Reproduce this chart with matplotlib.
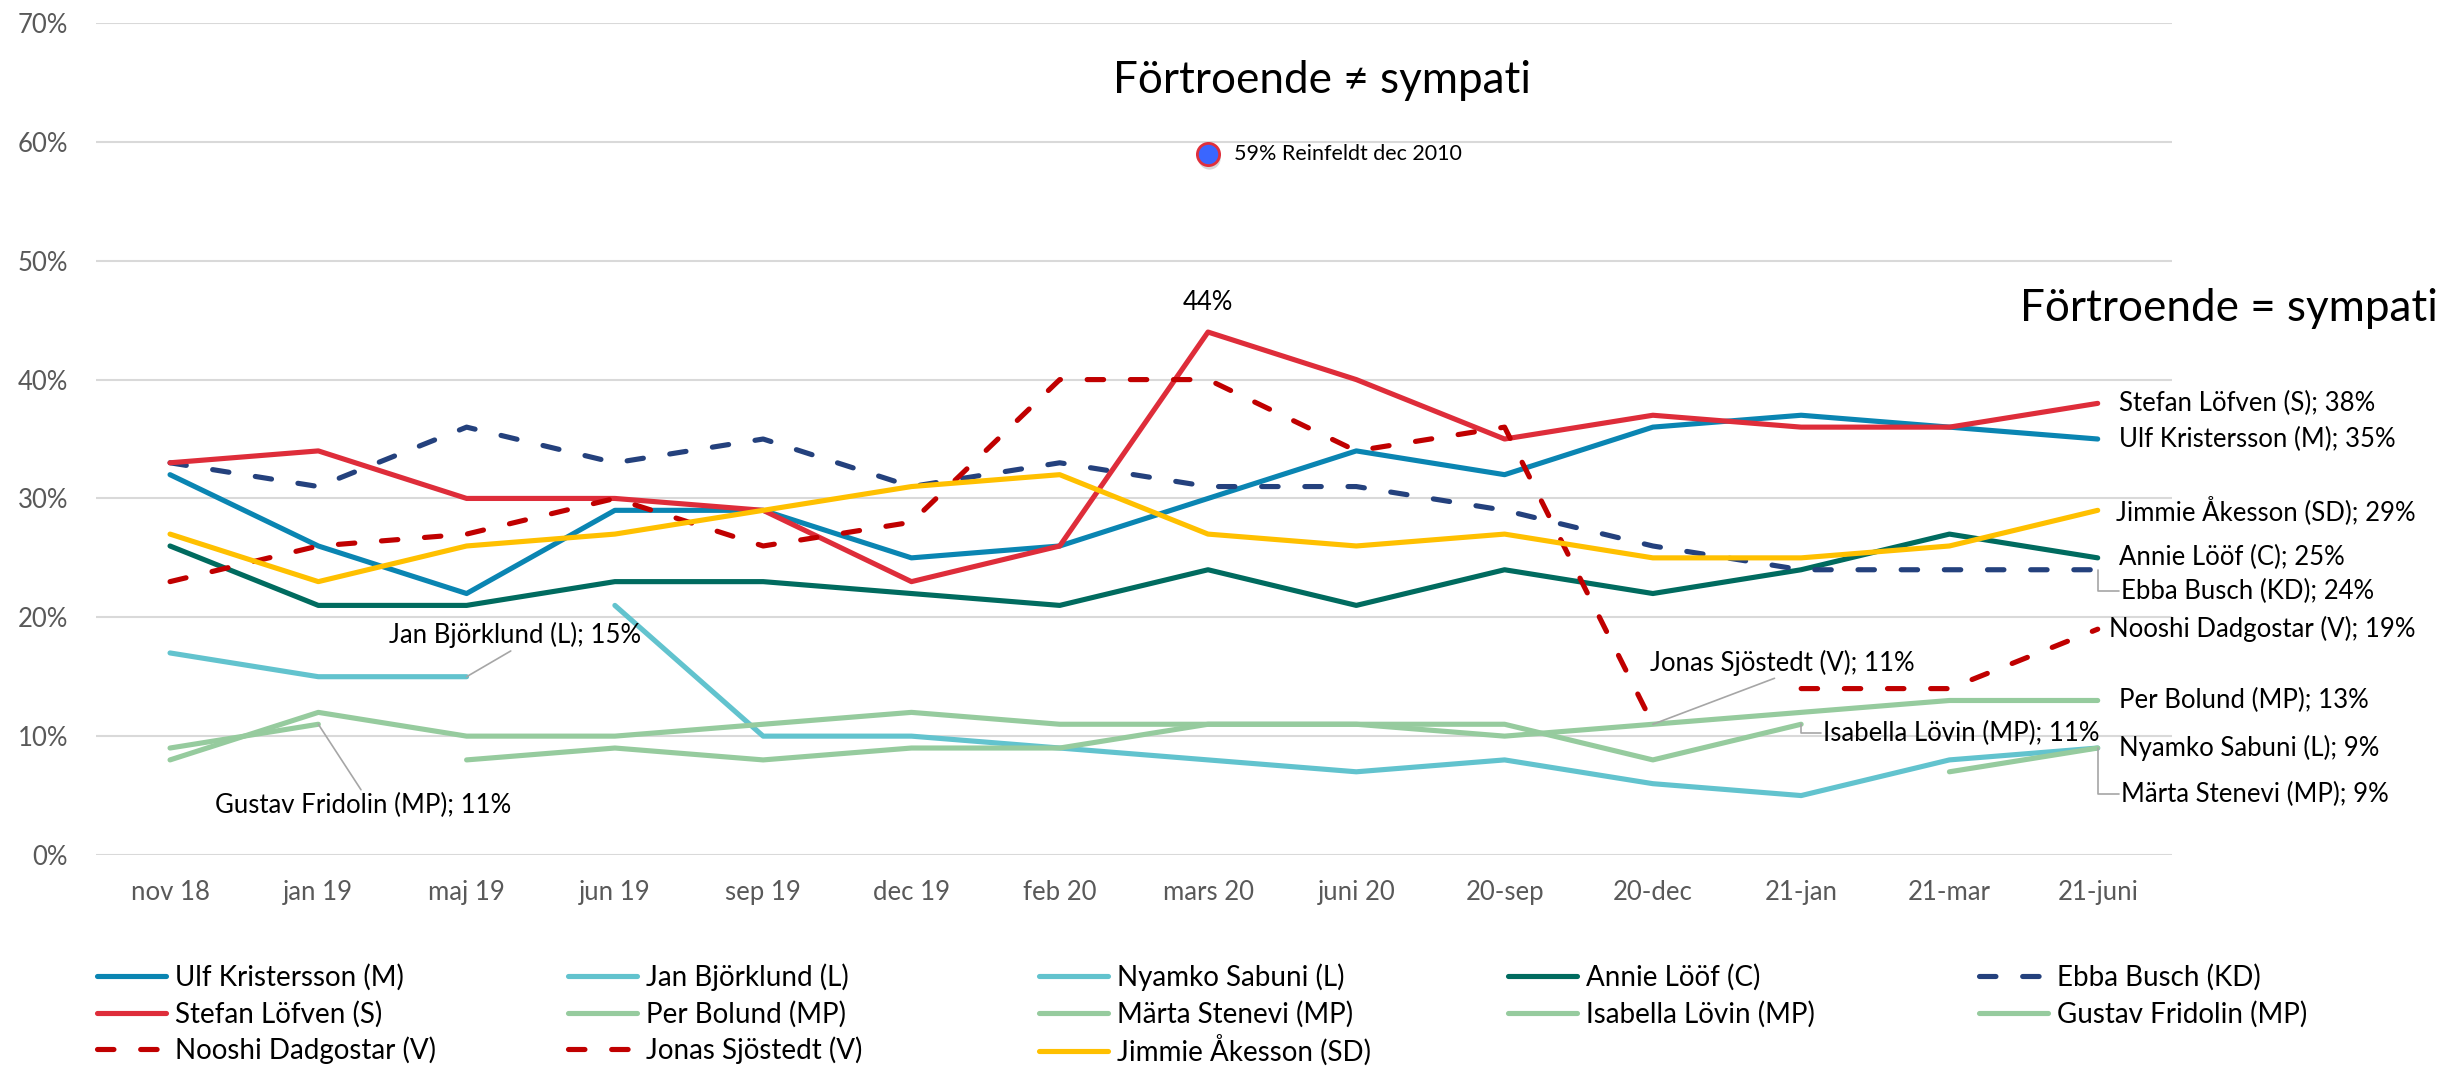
import numpy as np
import matplotlib
matplotlib.use("Agg")
import matplotlib.pyplot as plt
import matplotlib.transforms as mtransforms

plt.rcParams['font.family'] = ['Lato', 'DejaVu Sans']

nan = np.nan

# categories on the x axis
months = ['nov 18', 'jan 19', 'maj 19', 'jun 19', 'sep 19', 'dec 19', 'feb 20',
          'mars 20', 'juni 20', '20-sep', '20-dec', '21-jan', '21-mar', '21-juni']

# förtroende (%) per partiledare
ulf = [32, 26, 22, 29, 29, 25, 26, 30, 34, 32, 36, 37, 36, 35]
jan = [17, 15, 15, nan, nan, nan, nan, nan, nan, nan, nan, nan, nan, nan]
nyamko = [nan, nan, nan, 21, 10, 10, 9, 8, 7, 8, 6, 5, 8, 9]
annie = [26, 21, 21, 23, 23, 22, 21, 24, 21, 24, 22, 24, 27, 25]
ebba = [33, 31, 36, 33, 35, 31, 33, 31, 31, 29, 26, 24, 24, 24]
stefan = [33, 34, 30, 30, 29, 23, 26, 44, 40, 35, 37, 36, 36, 38]
per = [nan, nan, 8, 9, 8, 9, 9, 11, 11, 10, 11, 12, 13, 13]
marta = [nan, nan, nan, nan, nan, nan, nan, nan, nan, nan, nan, nan, 7, 9]
isabella = [8, 12, 10, 10, 11, 12, 11, 11, 11, 11, 8, 11, nan, nan]
gustav = [9, 11, nan, nan, nan, nan, nan, nan, nan, nan, nan, nan, nan, nan]
nooshi = [nan, nan, nan, nan, nan, nan, nan, nan, nan, nan, nan, 14, 14, 19]
jonas = [23, 26, 27, 30, 26, 28, 40, 40, 34, 36, 11, nan, nan, nan]
jimmie = [27, 23, 26, 27, 29, 31, 32, 27, 26, 27, 25, 25, 26, 29]

reinfeldt_x = 'mars 20'
reinfeldt_val = 59

C_M = '#0A85B2'
C_L = '#62C3CE'
C_C = '#006B5F'
C_KD = '#24417D'
C_S = '#DE2D3A'
C_MP = '#96CB9E'
C_V = '#C00000'
C_SD = '#FFC000'

series = [
    ('Ulf Kristersson (M)', ulf, C_M, '-'),
    ('Jan Björklund (L)', jan, C_L, '-'),
    ('Nyamko Sabuni (L)', nyamko, C_L, '-'),
    ('Annie Lööf (C)', annie, C_C, '-'),
    ('Ebba Busch (KD)', ebba, C_KD, '--'),
    ('Stefan Löfven (S)', stefan, C_S, '-'),
    ('Per Bolund (MP)', per, C_MP, '-'),
    ('Märta Stenevi (MP)', marta, C_MP, '-'),
    ('Isabella Lövin (MP)', isabella, C_MP, '-'),
    ('Gustav Fridolin (MP)', gustav, C_MP, '-'),
    ('Nooshi Dadgostar (V)', nooshi, C_V, '--'),
    ('Jonas Sjöstedt (V)', jonas, C_V, '--'),
    ('Jimmie Åkesson (SD)', jimmie, C_SD, '-'),
]

fig = plt.figure(figsize=(24.4, 10.67), dpi=100)
ax = fig.add_axes([0.0393, 0.1987, 0.8508, 0.7797])

x = np.arange(len(months))
handles = {}
for name, vals, col, ls in series:
    if ls == '--':
        ln, = ax.plot(x, vals, color=col, lw=3.7, dashes=(3.2, 5.2),
                      dash_capstyle='round', solid_joinstyle='round')
    else:
        ln, = ax.plot(x, vals, color=col, lw=3.7, solid_capstyle='round',
                      solid_joinstyle='round')
    handles[name] = ln

ax.set_xlim(-0.5, len(months) - 0.5)
ax.set_ylim(0, 70)
ax.set_xticks(x)
ax.set_xticklabels(months)
ax.set_yticks(np.arange(0, 71, 10))
ax.set_yticklabels([f'{v}%' for v in range(0, 71, 10)])
ax.tick_params(length=0, labelsize=18.5, labelcolor='#595959')
ax.tick_params(axis='x', pad=18)
ax.tick_params(axis='y', pad=20)
ax.grid(axis='y', color='#D9D9D9', lw=1.5)
ax.set_axisbelow(True)
for s in ax.spines.values():
    s.set_visible(False)

# Reinfeldt reference point
ri = months.index(reinfeldt_x)
shadow = mtransforms.offset_copy(ax.transData, fig=fig, x=1, y=-4, units='dots')
ax.plot([ri], [reinfeldt_val], 'o', ms=16, color='#B0B0B0', alpha=0.5,
        mec='none', transform=shadow, clip_on=False)
ax.plot([ri], [reinfeldt_val], 'o', ms=16, mfc='#3A66FF', mec='#E0303C',
        mew=2, clip_on=False)
ax.annotate(f'{reinfeldt_val}% Reinfeldt dec 2010', (ri, reinfeldt_val),
            xytext=(19, 0), textcoords='offset points', va='center', ha='left',
            fontsize=15.5)

# 44% peak label
pk = int(np.nanargmax(stefan))
ax.annotate(f'{stefan[pk]}%', (pk, stefan[pk]), xytext=(0, 21),
            textcoords='offset points', ha='center', va='center', fontsize=18.5)

last = len(months) - 1
lab_fs = 18.5

# end labels without leader
for name, vals, dx in [('Stefan Löfven (S)', stefan, 15), ('Ulf Kristersson (M)', ulf, 15),
                       ('Jimmie Åkesson (SD)', jimmie, 13), ('Annie Lööf (C)', annie, 15),
                       ('Nooshi Dadgostar (V)', nooshi, 8), ('Per Bolund (MP)', per, 15),
                       ('Nyamko Sabuni (L)', nyamko, 15)]:
    ax.annotate(f'{name}; {vals[last]}%', (last, vals[last]), xytext=(dx, 0),
                textcoords='offset points', ha='left', va='center', fontsize=lab_fs)

leader = dict(arrowstyle='-', color='#A6A6A6', lw=1.2, shrinkA=0, shrinkB=0)
elbow = dict(leader, connectionstyle='angle,angleA=0,angleB=90,rad=0', relpos=(0, 0.5))

ax.annotate(f'Ebba Busch (KD); {ebba[last]}%', (last, ebba[last]), xytext=(13.16, 22.2),
            textcoords='data', ha='left', va='center', fontsize=lab_fs, arrowprops=elbow)
ax.annotate(f'Märta Stenevi (MP); {marta[last]}%', (last, marta[last]), xytext=(13.16, 5.1),
            textcoords='data', ha='left', va='center', fontsize=lab_fs, arrowprops=elbow)
ax.annotate(f'Isabella Lövin (MP); {isabella[11]}%', (11, isabella[11]), xytext=(11.15, 10.25),
            textcoords='data', ha='left', va='center', fontsize=lab_fs, arrowprops=elbow)
ax.annotate(f'Jonas Sjöstedt (V); {jonas[10]}%', (10, jonas[10]), xytext=(10.87, 16.2),
            textcoords='data', ha='center', va='center', fontsize=lab_fs,
            arrowprops=dict(leader, relpos=(0.5, 0)))
ax.annotate(f'Jan Björklund (L); {jan[2]}%', (2, jan[2]), xytext=(2.33, 18.5),
            textcoords='data', ha='center', va='center', fontsize=lab_fs,
            arrowprops=dict(leader, relpos=(0.5, 0)))
ax.annotate(f'Gustav Fridolin (MP); {gustav[1]}%', (1, gustav[1]), xytext=(1.30, 4.2),
            textcoords='data', ha='center', va='center', fontsize=lab_fs,
            arrowprops=dict(leader, relpos=(0.5, 1)))

# headings
fig.text(0.542, 0.925, 'Förtroende ≠ sympati', ha='center', va='center', fontsize=31.7)
fig.text(0.828, 0.711, 'Förtroende = sympati', ha='left', va='center', fontsize=31.7)

# legend laid out like Excel: five columns, filled row by row
col_x = [97, 568, 1039, 1508, 1979]
row_y = [977, 1014, 1050]
for i, (name, _, _, _) in enumerate(series):
    cx = col_x[i % 5]
    ry = row_y[i // 5]
    leg = fig.legend([handles[name]], [name], loc='center left',
                     bbox_to_anchor=(cx / 2440, 1 - ry / 1067), frameon=False,
                     fontsize=20, borderpad=0, borderaxespad=0, handlelength=2.5,
                     handletextpad=0.3)

fig.savefig('out.png', dpi=100)
